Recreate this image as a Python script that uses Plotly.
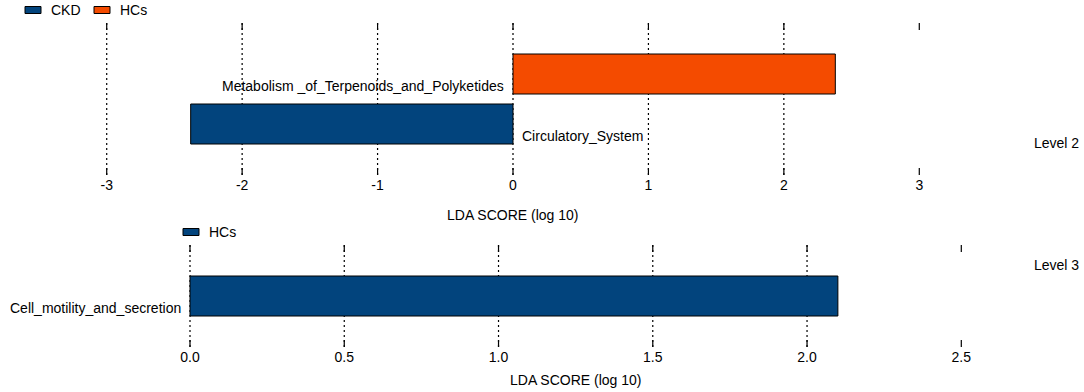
import plotly.graph_objects as go

# ---------------- data ----------------
level2_features = ["Circulatory_System", "Metabolism _of_Terpenoids_and_Polyketides"]
level2_groups = ["CKD", "HCs"]
level2_scores = [-2.38, 2.38]

level3_features = ["Cell_motility_and_secretion"]
level3_groups = ["HCs"]
level3_scores = [2.10]

top_ticks = [-3, -2, -1, 0, 1, 2, 3]
top_tick_labels = ["-3", "-2", "-1", "0", "1", "2", "3"]
bottom_ticks = [0.0, 0.5, 1.0, 1.5, 2.0, 2.5]
bottom_tick_labels = ["0.0", "0.5", "1.0", "1.5", "2.0", "2.5"]
axis_title = "LDA SCORE (log 10)"
level_labels = ["Level 2", "Level 3"]

# ---------------- style ----------------
W, H = 1084, 392
FONT = "Liberation Sans, Arial, sans-serif"
BLUE = "#02447D"
ORANGE = "#F44B00"
group_colors = {"CKD": BLUE, "HCs": ORANGE}


def px_x(p):
    return p / W


def px_y(p):
    return (H - p) / H


fig = go.Figure()

# top panel bars
for feat, grp, val in zip(level2_features, level2_groups, level2_scores):
    fig.add_trace(go.Bar(
        x=[val], y=[feat], orientation="h", width=0.8,
        marker=dict(color=group_colors[grp], line=dict(color="black", width=1)),
        xaxis="x", yaxis="y", showlegend=False, name=grp, hoverinfo="x+y",
    ))
# bottom panel bars
for feat, grp, val in zip(level3_features, level3_groups, level3_scores):
    fig.add_trace(go.Bar(
        x=[val], y=[feat], orientation="h", width=0.8,
        marker=dict(color=BLUE, line=dict(color="black", width=1)),
        xaxis="x2", yaxis="y2", showlegend=False, name=grp, hoverinfo="x+y",
    ))

shapes = []
annotations = []

# gridlines + tick marks
def add_grid(ticks, xref, ydomref, tick_frac):
    for i, t in enumerate(ticks):
        if i < len(ticks) - 1:
            shapes.append(dict(type="line", xref=xref, yref=ydomref, x0=t, x1=t, y0=0, y1=1,
                               line=dict(color="black", width=1.2, dash="2px,3px"), layer="below"))
        for y0, y1 in [(0, tick_frac), (1 - tick_frac, 1)]:
            shapes.append(dict(type="line", xref=xref, yref=ydomref, x0=t, x1=t, y0=y0, y1=y1,
                               line=dict(color="black", width=1.2)))

add_grid(top_ticks, "x", "y domain", 7 / 152)
add_grid(bottom_ticks, "x2", "y2 domain", 7 / 102)

# feature labels
for feat, val in zip(level2_features, level2_scores):
    annotations.append(dict(
        x=0, y=feat, xref="x", yref="y", text=feat, showarrow=False,
        xanchor="left" if val < 0 else "right", xshift=7 if val < 0 else -7,
        yanchor="middle", yshift=-12, font=dict(family=FONT, size=14, color="black")))
for feat, val in zip(level3_features, level3_scores):
    annotations.append(dict(
        x=0, y=feat, xref="x2", yref="y2", text=feat, showarrow=False,
        xanchor="right", xshift=-7, yanchor="middle", yshift=-12,
        font=dict(family=FONT, size=14, color="black")))

# axis titles
annotations.append(dict(x=(top_ticks[0] + top_ticks[-1]) / 2, y=px_y(215), xref="x", yref="paper",
                        text=axis_title, showarrow=False, yanchor="middle",
                        font=dict(family=FONT, size=14, color="black")))
annotations.append(dict(x=(bottom_ticks[0] + bottom_ticks[-1]) / 2, y=px_y(380), xref="x2", yref="paper",
                        text=axis_title, showarrow=False, yanchor="middle",
                        font=dict(family=FONT, size=14, color="black")))

# level labels
for lab, yp in zip(level_labels, [143, 265]):
    annotations.append(dict(x=px_x(1081), y=px_y(yp), xref="paper", yref="paper", text=lab,
                            showarrow=False, xanchor="right", yanchor="middle",
                            font=dict(family=FONT, size=14, color="black")))

# manual legends
def legend_item(x_px, y_px, color, text):
    shapes.append(dict(type="rect", xref="paper", yref="paper",
                       x0=px_x(x_px), x1=px_x(x_px + 16), y0=px_y(y_px + 3.5), y1=px_y(y_px - 3.5),
                       fillcolor=color, line=dict(color="black", width=1)))
    annotations.append(dict(x=px_x(x_px + 24), y=px_y(y_px), xref="paper", yref="paper", text=text,
                            showarrow=False, xanchor="left", yanchor="middle",
                            font=dict(family=FONT, size=14, color="black")))

legend_item(25, 10, group_colors[level2_groups[0]], level2_groups[0])
legend_item(94, 10, group_colors[level2_groups[1]], level2_groups[1])
legend_item(183, 232, BLUE, level3_groups[0])

fig.update_layout(
    width=W, height=H,
    margin=dict(l=0, r=0, t=0, b=0),
    paper_bgcolor="white", plot_bgcolor="white",
    barmode="overlay",
    font=dict(family=FONT, size=14, color="black"),
    xaxis=dict(domain=[px_x(39), px_x(987)], range=[-3.5, 3.5], anchor="y",
               tickvals=top_ticks, ticktext=top_tick_labels, showgrid=False, zeroline=False,
               showline=False, ticks="", tickfont=dict(family=FONT, size=14, color="black")),
    yaxis=dict(domain=[px_y(175), px_y(23)], range=[-1.02, 2.02], anchor="x",
               categoryorder="array", categoryarray=level2_features, visible=False),
    xaxis2=dict(domain=[px_x(159.15), px_x(1023)], range=[-0.1, 2.7], anchor="y2",
                tickvals=bottom_ticks, ticktext=bottom_tick_labels, showgrid=False, zeroline=False,
                showline=False, ticks="", tickfont=dict(family=FONT, size=14, color="black")),
    yaxis2=dict(domain=[px_y(347), px_y(245)], range=[-1.02, 1.02], anchor="x2",
                categoryorder="array", categoryarray=level3_features, visible=False),
    shapes=shapes,
    annotations=annotations,
)

fig.write_html("out.html",
               config={"displayModeBar": False},
               post_script="document.body.style.margin='0';document.body.style.overflow='hidden';")
